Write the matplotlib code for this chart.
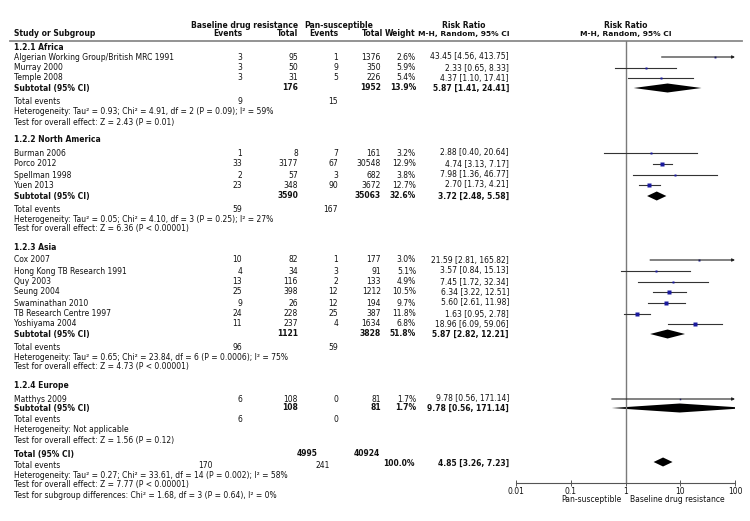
import matplotlib
matplotlib.use("Agg")
import matplotlib.pyplot as plt

# ---- data ----
group_names = ["1.2.1 Africa", "1.2.2 North America", "1.2.3 Asia", "1.2.4 Europe"]

study_names = ["Algerian Working Group/British MRC 1991", "Murray 2000", "Temple 2008",
               "Burman 2006", "Porco 2012", "Spellman 1998", "Yuen 2013",
               "Cox 2007", "Hong Kong TB Research 1991", "Quy 2003", "Seung 2004",
               "Swaminathan 2010", "TB Research Centre 1997", "Yoshiyama 2004",
               "Matthys 2009"]
study_group = [0, 0, 0, 1, 1, 1, 1, 2, 2, 2, 2, 2, 2, 2, 3]
ev_res = [3, 3, 3, 1, 33, 2, 23, 10, 4, 13, 25, 9, 24, 11, 6]
tot_res = [95, 50, 31, 8, 3177, 57, 348, 82, 34, 116, 398, 26, 228, 237, 108]
ev_pan = [1, 9, 5, 7, 67, 3, 90, 1, 3, 2, 12, 12, 25, 4, 0]
tot_pan = [1376, 350, 226, 161, 30548, 682, 3672, 177, 91, 133, 1212, 194, 387, 1634, 81]
weight = [2.6, 5.9, 5.4, 3.2, 12.9, 3.8, 12.7, 3.0, 5.1, 4.9, 10.5, 9.7, 11.8, 6.8, 1.7]
rr = [43.45, 2.33, 4.37, 2.88, 4.74, 7.98, 2.70, 21.59, 3.57, 7.45, 6.34, 5.60, 1.63, 18.96, 9.78]
rr_lo = [4.56, 0.65, 1.10, 0.40, 3.13, 1.36, 1.73, 2.81, 0.84, 1.72, 3.22, 2.61, 0.95, 6.09, 0.56]
rr_hi = [413.75, 8.33, 17.41, 20.64, 7.17, 46.77, 4.21, 165.82, 15.13, 32.34, 12.51, 11.98, 2.78, 59.06, 171.14]

sub_tot_res = [176, 3590, 1121, 108]
sub_tot_pan = [1952, 35063, 3828, 81]
sub_weight = [13.9, 32.6, 51.8, 1.7]
sub_rr = [5.87, 3.72, 5.87, 9.78]
sub_lo = [1.41, 2.48, 2.82, 0.56]
sub_hi = [24.41, 5.58, 12.21, 171.14]
sub_ev_res = [9, 59, 96, 6]
sub_ev_pan = [15, 167, 59, 0]
sub_het = ["Heterogeneity: Tau² = 0.93; Chi² = 4.91, df = 2 (P = 0.09); I² = 59%",
           "Heterogeneity: Tau² = 0.05; Chi² = 4.10, df = 3 (P = 0.25); I² = 27%",
           "Heterogeneity: Tau² = 0.65; Chi² = 23.84, df = 6 (P = 0.0006); I² = 75%",
           "Heterogeneity: Not applicable"]
sub_test = ["Test for overall effect: Z = 2.43 (P = 0.01)",
            "Test for overall effect: Z = 6.36 (P < 0.00001)",
            "Test for overall effect: Z = 4.73 (P < 0.00001)",
            "Test for overall effect: Z = 1.56 (P = 0.12)"]

total_res, total_pan, total_weight = 4995, 40924, 100.0
total_rr, total_lo, total_hi = 4.85, 3.26, 7.23
total_ev_res, total_ev_pan = 170, 241
total_het = "Heterogeneity: Tau² = 0.27; Chi² = 33.61, df = 14 (P = 0.002); I² = 58%"
total_test = "Test for overall effect: Z = 7.77 (P < 0.00001)"
subgroup_test = "Test for subgroup differences: Chi² = 1.68, df = 3 (P = 0.64), I² = 0%"

# ---- layout (pixel rows) ----
y_header = [47, 140, 247, 386]
y_study = [57, 68, 78, 153, 164, 175, 185, 260, 271, 282, 292, 303, 314, 324, 399]
y_sub = [88, 196, 334, 408]
y_te = [101, 209, 347, 420]
y_het = [111, 219, 357, 430]
y_test = [122, 229, 367, 440]

FS = 5.5
TXT = "#111111"
plt.rcParams["font.family"] = ["DejaVu Sans"]

fig = plt.figure(figsize=(7.5, 5.21), dpi=100)
bg = fig.add_axes([0, 0, 1, 1])
bg.set_xlim(0, 750)
bg.set_ylim(521, 0)
bg.axis("off")

X_LEFT, X_EVR, X_TOTR, X_EVP, X_TOTP, X_W, X_RR = 14, 242, 298, 338, 381, 416, 509


def t(x, y, s, ha="left", bold=False, fs=FS):
    bg.text(x, y, s, ha=ha, va="center", fontsize=fs, color=TXT,
            fontweight="bold" if bold else "normal")


def ci(lo, est, hi):
    return f"{est:.2f} [{lo:.2f}, {hi:.2f}]"


# header
t(298, 25, "Baseline drug resistance", "right", True)
t(339, 25, "Pan-susceptible", "center", True)
t(464, 25, "Risk Ratio", "center", True)
t(626, 25, "Risk Ratio", "center", True)
t(X_LEFT, 34, "Study or Subgroup", bold=True)
t(X_EVR, 34, "Events", "right", True)
t(X_TOTR, 34, "Total", "right", True)
t(X_EVP, 34, "Events", "right", True)
t(383, 34, "Total", "right", True)
t(415, 34, "Weight", "right", True)
t(510, 34, "M-H, Random, 95% CI", "right", True, fs=5.4)
t(626, 34, "M-H, Random, 95% CI", "center", True, fs=5.4)
bg.plot([10, 742], [41, 41], color="#8a8a8a", lw=1.3)

# forest axes
fx0, fx1, fy0, fy1 = 516, 735, 41, 483
ax = fig.add_axes([fx0 / 750, 1 - fy1 / 521, (fx1 - fx0) / 750, (fy1 - fy0) / 521])
ax.set_xscale("log")
ax.set_xlim(0.01, 100)
ax.set_ylim(fy1, fy0)
ax.patch.set_visible(False)
for s in ["top", "left", "right"]:
    ax.spines[s].set_visible(False)
ax.spines["bottom"].set_color("#555555")
ax.spines["bottom"].set_linewidth(0.8)
ax.set_yticks([])
ax.set_xticks([0.01, 0.1, 1, 10, 100])
ax.set_xticklabels(["0.01", "0.1", "1", "10", "100"])
ax.minorticks_off()
ax.tick_params(axis="x", direction="inout", length=4, width=0.7, color="#555555",
               labelsize=FS, labelcolor=TXT, pad=1)
ax.axvline(1, color="#7a7a7a", lw=1.0)


def diamond(lo, est, hi, y, h=4.5):
    ax.fill([lo, est, hi, est], [y, y - h, y, y + h], color="black", lw=0)


def ci_line(lo, est, hi, y, w):
    if hi > 100:
        ax.annotate("", xy=(100, y), xytext=(lo, y),
                    arrowprops=dict(arrowstyle="-|>", lw=0.8, color="#222222",
                                    mutation_scale=4, shrinkA=0, shrinkB=0))
    else:
        ax.plot([lo, hi], [y, y], color="#333333", lw=0.8)
    ax.plot([est], [y], marker="s", ms=0.85 * w ** 0.5, color="#1a1a9e", mec="none")


for g, name in enumerate(group_names):
    t(X_LEFT, y_header[g], name, bold=True)
    for i, sg in enumerate(study_group):
        if sg != g:
            continue
        y = y_study[i]
        t(X_LEFT, y, study_names[i])
        t(X_EVR, y, str(ev_res[i]), "right")
        t(X_TOTR, y, str(tot_res[i]), "right")
        t(X_EVP, y, str(ev_pan[i]), "right")
        t(X_TOTP, y, str(tot_pan[i]), "right")
        t(X_W, y, f"{weight[i]:.1f}%", "right")
        t(X_RR, y, ci(rr_lo[i], rr[i], rr_hi[i]), "right")
        ci_line(rr_lo[i], rr[i], rr_hi[i], y, weight[i])
    y = y_sub[g]
    t(X_LEFT, y, "Subtotal (95% CI)", bold=True)
    t(X_TOTR, y, str(sub_tot_res[g]), "right", True)
    t(X_TOTP, y, str(sub_tot_pan[g]), "right", True)
    t(X_W, y, f"{sub_weight[g]:.1f}%", "right", True)
    t(X_RR, y, ci(sub_lo[g], sub_rr[g], sub_hi[g]), "right", True)
    diamond(sub_lo[g], sub_rr[g], sub_hi[g], y)
    t(X_LEFT, y_te[g], "Total events")
    t(X_EVR, y_te[g], str(sub_ev_res[g]), "right")
    t(X_EVP, y_te[g], str(sub_ev_pan[g]), "right")
    t(X_LEFT, y_het[g], sub_het[g])
    t(X_LEFT, y_test[g], sub_test[g])

# overall
t(X_LEFT, 454, "Total (95% CI)", bold=True)
t(318, 454, str(total_res), "right", True)
t(380, 454, str(total_pan), "right", True)
t(415, 463, f"{total_weight:.1f}%", "right", True)
t(X_RR, 463, ci(total_lo, total_rr, total_hi), "right", True)
diamond(total_lo, total_rr, total_hi, 462)
t(X_LEFT, 466, "Total events")
t(213, 466, str(total_ev_res), "right")
t(330, 466, str(total_ev_pan), "right")
t(X_LEFT, 475, total_het)
t(X_LEFT, 485, total_test)
t(X_LEFT, 495, subgroup_test)

t(622, 500, "Pan-susceptible", "right")
t(630, 500, "Baseline drug resistance", "left")

fig.savefig("out.png", dpi=100)
